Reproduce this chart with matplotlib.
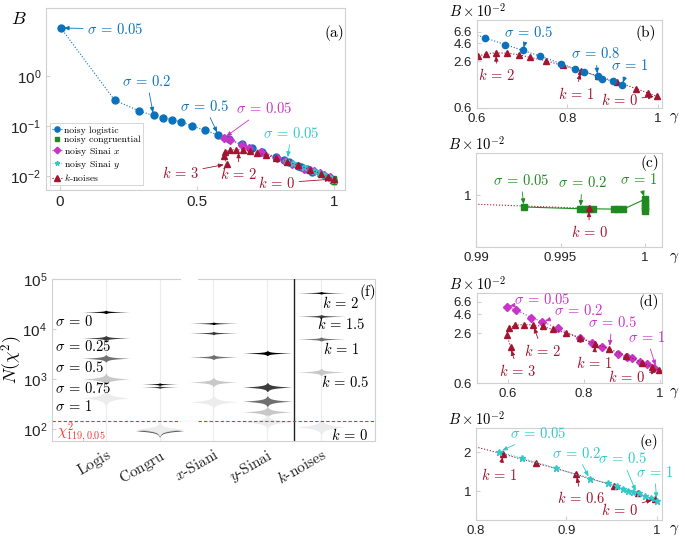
import numpy as np
import matplotlib
matplotlib.use('Agg')
import matplotlib.pyplot as plt

plt.rcParams['font.family'] = ['Liberation Sans', 'DejaVu Sans']
plt.rcParams['mathtext.fontset'] = 'cm'
plt.rcParams['axes.formatter.use_mathtext'] = True

BLUE = '#0a72bd'
GREEN = '#1f8a1f'
MAG = '#c833c8'
CYAN = '#30c8c8'
RED = '#a2142f'
FRAME = '#d0d0d0'
SERIF = 'cmr10'

# ---- data, B in units of 1e-2 ----
log_g = [0.004, 0.20, 0.29, 0.342, 0.378, 0.41, 0.443, 0.483, 0.529, 0.578,
         0.6185, 0.663, 0.7015, 0.739, 0.787, 0.816, 0.836, 0.867, 0.878, 0.9015, 0.921]
log_B = [920, 33, 20, 16.3, 14.7, 13.4, 12.0, 10.0, 8.2, 6.6,
         5.4, 4.38, 3.66, 3.07, 2.41, 2.06, 1.88, 1.62, 1.51, 1.385, 1.22]

cg_g = [0.99284, 0.99618, 0.99636, 0.99665, 0.99690, 0.99818, 0.99838, 0.99867,
        1.0, 1.0, 1.0, 1.0, 1.0]
cg_B = [0.81, 0.785, 0.785, 0.785, 0.785, 0.78, 0.775, 0.775,
        0.93, 0.88, 0.83, 0.79, 0.75]

sx_g = [0.598, 0.622, 0.6626, 0.691, 0.732, 0.791, 0.822, 0.848, 0.889, 0.913,
        0.926, 0.948, 0.965, 0.984]
sx_B = [5.75, 5.22, 4.15, 3.69, 3.03, 2.25, 1.98, 1.76, 1.40, 1.31,
        1.25, 1.13, 1.04, 0.94]

sy_g = [0.826, 0.851, 0.889, 0.926, 0.946, 0.956, 0.963, 0.968, 0.974, 0.980,
        0.987, 0.994, 1.0]
sy_B = [2.01, 1.79, 1.50, 1.24, 1.15, 1.09, 1.04, 1.0, 0.98, 0.96,
        0.91, 0.88, 0.84]

kn_g = [0.608, 0.598, 0.603, 0.62, 0.642, 0.667, 0.692, 0.718, 0.752, 0.79,
        0.83, 0.867, 0.911, 0.953, 0.979, 0.998]
kn_B = [1.73, 2.49, 3.05, 3.3, 3.38, 3.35, 3.2, 2.93, 2.65, 2.28,
        1.93, 1.64, 1.35, 1.1, 0.96, 0.87]

# zoomed (c): last k-noise segment
kc_g = [0.979, 0.99667]
kc_B = [0.96, 0.79]

# (f) violin centres N(chi^2) and log10 spreads
cats = ['$\\mathrm{Logis}$', '$\\mathrm{Congru}$', '$x$-Siani', '$y$-Sinai', '$k$-noises']
logis_N = [2.2e4, 6600, 2600, 1000, 420]
congru_N = [790, 690, 92, 96, 100]
sinx_N = [1.3e4, 8300, 2750, 870, 350]
siny_N = [3300, 690, 360, 220, 140]
knoise_N = [5.3e4, 1.8e4, 6300, 1380, 110]
logis_s = [0.008, 0.012, 0.018, 0.028, 0.04]
congru_s = [0.006, 0.006, 0.03, 0.03, 0.035]
sinx_s = [0.006, 0.008, 0.012, 0.022, 0.032]
siny_s = [0.012, 0.022, 0.026, 0.026, 0.035]
knoise_s = [0.006, 0.008, 0.01, 0.018, 0.04]
chi_crit = 145.5

fig = plt.figure(figsize=(6.85, 5.4), dpi=100)
FS = 10.5


def style(ax, fs):
    for s in ax.spines.values():
        s.set_color(FRAME)
        s.set_linewidth(0.8)
    ax.tick_params(which='both', direction='in', length=3, color=FRAME,
                   labelsize=fs, labelcolor='#222222')
    ax.tick_params(which='minor', length=0)


def eq(lhs, rhs):
    return r'$%s\,=\,%s$' % (lhs, rhs)


def note(ax, txt, xy, xytext, c, ha='center', fs=FS):
    ax.annotate(txt, xy=xy, xytext=xytext, color=c, fontsize=fs, ha=ha, va='center',
                arrowprops=dict(arrowstyle='-|>,head_length=0.3,head_width=0.12',
                                color=c, lw=0.6, shrinkA=1, shrinkB=2))


def small_panel(rect, xlim, ylim, yt, ytl, xt, xtl, tag, tagxy):
    ax = fig.add_axes(rect)
    ax.set_yscale('log')
    ax.set_xlim(*xlim)
    ax.set_ylim(*ylim)
    ax.set_yticks(yt)
    ax.set_yticklabels(ytl)
    ax.set_xticks(xt)
    ax.set_xticklabels(xtl)
    ax.yaxis.set_minor_locator(matplotlib.ticker.NullLocator())
    style(ax, 9.5)
    ax.text(-0.15, 1.1, r'$B\times10^{-2}$', transform=ax.transAxes, fontsize=10.5,
            va='center', ha='left')
    ax.text(1.04, -0.11, r'$\gamma$', transform=ax.transAxes, fontsize=11, va='center')
    ax.text(tagxy[0], tagxy[1], '(%s)' % tag, fontsize=11, ha='center', va='center',
            family=SERIF)
    return ax


# ---------------- (a) ----------------
axa = fig.add_axes([0.0672, 0.6481, 0.4365, 0.3370])
axa.set_yscale('log')
h = 1e-2
axa.plot(log_g, np.array(log_B) * h, ':', color=BLUE, marker='o', ms=5, lw=0.8,
         label='noisy logistic')
axa.plot(cg_g, np.array(cg_B) * h, ls='none', color=GREEN, marker='s', ms=3.5,
         label='noisy congruential')
axa.plot(sx_g, np.array(sx_B) * h, ':', color=MAG, marker='D', ms=4.5, lw=0.8,
         label='noisy Sinai $x$')
axa.plot(sy_g, np.array(sy_B) * h, ':', color=CYAN, marker='*', ms=4.5, lw=0.6,
         label='noisy Sinai $y$')
axa.plot(kn_g, np.array(kn_B) * h, ':', color=RED, marker='^', ms=5, lw=0.8,
         label='$k$-noises')
axa.set_xlim(-0.05, 1.04)
axa.set_ylim(10 ** -2.28, 23)
axa.set_yticks([1e-2, 1e-1, 1])
axa.yaxis.set_minor_locator(matplotlib.ticker.NullLocator())
axa.set_xticks([0, 0.5, 1])
axa.set_xticklabels(['0', '0.5', '1'])
style(axa, 11)
leg = axa.legend(loc='lower left', bbox_to_anchor=(0.01, 0.02),
                 prop={'family': SERIF, 'size': 7}, markerscale=0.75,
                 handlelength=1.0, handletextpad=0.2, labelspacing=0.12, borderpad=0.25,
                 borderaxespad=0.1, fancybox=False, framealpha=1)
leg.get_frame().set_edgecolor(FRAME)
leg.get_frame().set_linewidth(0.6)
note(axa, eq(r'\sigma', '0.05'), (0.004, 9.2), (0.1, 8.7), BLUE, ha='left')
note(axa, eq(r'\sigma', '0.2'), (0.342, 0.163), (0.318, 0.79), BLUE)
note(axa, eq(r'\sigma', '0.5'), (0.578, 0.066), (0.529, 0.25), BLUE)
note(axa, eq(r'\sigma', '0.05'), (0.598, 0.0575), (0.745, 0.22), MAG)
note(axa, eq(r'\sigma', '0.05'), (0.83, 0.021), (0.843, 0.072), CYAN)
note(axa, eq('k', '3'), (0.608, 0.0173), (0.44, 0.0115), RED)
note(axa, eq('k', '2'), (0.652, 0.0338), (0.652, 0.011), RED)
note(axa, eq('k', '0'), (0.998, 0.0087), (0.79, 0.0072), RED)
axa.text(1.0, 7.3, '(a)', fontsize=11, ha='center', va='center', family=SERIF)
fig.text(19 / 685, 1 - 20 / 540, r'$B$', fontsize=13, ha='center', va='center')

# ---------------- (b) ----------------
t4 = [0.6, 2.6, 4.6, 6.6]
t4l = ['0.6', '2.6', '4.6', '6.6']
axb = small_panel([0.6964, 0.8, 0.2701, 0.163], (0.6, 1.01), (0.6, 9.5), t4, t4l,
                  [0.6, 0.8, 1], ['0.6', '0.8', '1'], 'b', (0.974, 6.3))
axb.plot(kn_g[2:], kn_B[2:], ':', color=RED, marker='^', ms=4.5, lw=0.8)
axb.plot(log_g, log_B, ':', color=BLUE, marker='o', ms=4.5, lw=0.8)
note(axb, eq(r'\sigma', '0.5'), (0.7015, 3.66), (0.713, 6.5), BLUE)
note(axb, eq(r'\sigma', '0.8'), (0.867, 1.62), (0.863, 3.3), BLUE)
note(axb, eq(r'\sigma', '1'), (0.921, 1.22), (0.937, 2.29), BLUE)
note(axb, eq('k', '2'), (0.642, 3.38), (0.644, 1.67), RED)
note(axb, eq('k', '1'), (0.83, 1.93), (0.819, 0.94), RED)
note(axb, eq('k', '0'), (0.998, 0.87), (0.915, 0.76), RED)

# ---------------- (c) ----------------
axc = small_panel([0.6949, 0.5426, 0.2715, 0.1741], (0.99, 1.001), (0.4, 2.1), [1], ['1'],
                  [0.99, 0.995, 1], ['0.99', '0.995', '1'], 'c', (1.0003, 1.75))
axc.plot(kc_g, kc_B, ':', color=RED, lw=0.8)
axc.plot(cg_g, cg_B, '-', color=GREEN, marker='s', ms=4, lw=0.8)
axc.plot(kc_g[-1:], kc_B[-1:], ls='none', color=RED, marker='^', ms=5)
note(axc, eq(r'\sigma', '0.05'), (0.99284, 0.81), (0.99265, 1.30), GREEN)
note(axc, eq(r'\sigma', '0.2'), (0.99618, 0.785), (0.99627, 1.24), GREEN)
note(axc, eq(r'\sigma', '1'), (1.0, 0.93), (0.9996, 1.32), GREEN)
note(axc, eq('k', '0'), (0.99667, 0.79), (0.99671, 0.52), RED)

# ---------------- (d) ----------------
axd = small_panel([0.6964, 0.2907, 0.2701, 0.1667], (0.52, 1.005), (0.6, 8.6), t4, t4l,
                  [0.6, 0.8, 1], ['0.6', '0.8', '1'], 'd', (0.97, 6.6))
axd.plot(sx_g, sx_B, ':', color=MAG, marker='D', ms=4, lw=0.8)
axd.plot(kn_g, kn_B, ':', color=RED, marker='^', ms=4.5, lw=0.8)
note(axd, eq(r'\sigma', '0.05'), (0.598, 5.75), (0.69, 7.0), MAG)
note(axd, eq(r'\sigma', '0.2'), (0.691, 3.69), (0.787, 5.1), MAG)
note(axd, eq(r'\sigma', '0.5'), (0.867, 1.66), (0.874, 3.62), MAG)
note(axd, eq(r'\sigma', '1'), (0.99, 0.93), (0.965, 2.32), MAG)
note(axd, eq('k', '2'), (0.667, 3.35), (0.691, 1.56), RED)
note(axd, eq('k', '3'), (0.608, 1.73), (0.626, 0.86), RED)
note(axd, eq('k', '1'), (0.83, 1.93), (0.826, 1.08), RED)
note(axd, eq('k', '0'), (0.998, 0.87), (0.913, 0.71), RED)

# ---------------- (e) ----------------
axe = small_panel([0.6949, 0.037, 0.2715, 0.1704], (0.8, 1.006), (0.6, 3.06), [1, 2], ['1', '2'],
                  [0.8, 0.9, 1], ['0.8', '0.9', '1'], 'e', (0.991, 2.39))
axe.plot(kn_g[-6:], kn_B[-6:], ':', color=RED, marker='^', ms=5, lw=0.8)
axe.plot(kn_g[-7:-5], kn_B[-7:-5], ':', color=RED, lw=0.8)
axe.plot(sy_g, sy_B, ':', color=CYAN, marker='*', ms=5, lw=0.8)
note(axe, eq(r'\sigma', '0.05'), (0.826, 2.01), (0.8685, 2.76), CYAN)
note(axe, eq(r'\sigma', '0.2'), (0.926, 1.24), (0.9115, 1.96), CYAN)
note(axe, eq(r'\sigma', '0.5'), (0.978, 0.96), (0.962, 1.78), CYAN)
note(axe, eq(r'\sigma', '1'), (1.0, 0.84), (0.998, 1.40), CYAN)
note(axe, eq('k', '1'), (0.83, 1.93), (0.826, 1.34), RED)
note(axe, eq('k', '0.6'), (0.911, 1.35), (0.9167, 0.88), RED)
note(axe, eq('k', '0'), (0.998, 0.87), (0.959, 0.72), RED)

# ---------------- (f) ----------------
axf = fig.add_axes([0.0759, 0.1833, 0.4715, 0.3])
axf.set_yscale('log')
axf.set_xlim(0, 6)
axf.set_ylim(10 ** 1.76, 1e5)
axf.set_xticks([1, 2, 3, 4, 5])
axf.set_xticklabels(cats, rotation=30, ha='right', rotation_mode='anchor',
                    family=SERIF, fontsize=13)
axf.set_yticks([1e2, 1e3, 1e4, 1e5])
axf.yaxis.set_minor_locator(matplotlib.ticker.NullLocator())
style(axf, 11)
axf.tick_params(axis='x', length=0, pad=4)
axf.grid(axis='x', color='#ececec', lw=0.8)
axf.set_axisbelow(True)
axf.spines['top'].set_visible(False)
axf.plot([0, 0.396], [1, 1], color=FRAME, lw=0.8, transform=axf.transAxes, clip_on=False)
axf.plot([0.452, 1], [1, 1], color=FRAME, lw=0.8, transform=axf.transAxes, clip_on=False)

shades = ['#000000', '#3c3c3c', '#707070', '#c8c8c8', '#ececec']
groups = [(logis_N, logis_s, 0.44), (congru_N, congru_s, 0.34), (sinx_N, sinx_s, 0.45),
          (siny_N, siny_s, 0.46), (knoise_N, knoise_s, 0.45)]
for i, (cent, spr, w) in enumerate(groups):
    pos = i + 1
    for j in range(len(cent)):
        ww = w if not (i == 1 and j >= 2) else 0.45
        t = np.linspace(-4, 4, 241) * spr[j]
        half = ww * np.exp(-np.abs(t) / spr[j])
        y = 10 ** (np.log10(cent[j]) + t)
        col = shades[j] if not (i == 1 and j == 2) else '#555555'
        axf.fill_betweenx(y, pos - half, pos + half, color=col, lw=0)

axf.axvline(4.5, color='#222222', lw=1)
axf.plot([0, 2.38], [chi_crit, chi_crit], '--', color='#f03030', lw=0.8, dashes=(3, 2))
axf.plot([2.72, 6], [chi_crit, chi_crit], '--', color='#f03030', lw=0.8, dashes=(3, 2))
axf.text(0.1, 10 ** 1.94, r'$\chi^2_{119,0.05}$', color='#f03030', fontsize=10.5, va='center')

sig_lab = ['0', '0.25', '0.5', '0.75', '1']
sig_y = [4.16, 3.66, 3.24, 2.82, 2.46]
for s, yy in zip(sig_lab, sig_y):
    axf.text(0.06, 10 ** yy, eq(r'\sigma', s), fontsize=FS, va='center', ha='left')
k_lab = ['2', '1.5', '1', '0.5', '0']
k_x = [5.35, 5.37, 5.38, 5.44, 5.52]
k_y = [4.52, 4.1, 3.6, 2.94, 1.88]
for s, xx, yy in zip(k_lab, k_x, k_y):
    axf.text(xx, 10 ** yy, eq('k', s), fontsize=FS, va='center', ha='center')
axf.text(5.87, 10 ** 4.75, '(f)', fontsize=11, ha='center', va='center', family=SERIF)
axf.set_ylabel(r'$N(\chi^2)$', fontsize=13)
axf.yaxis.set_label_coords(-0.085, 0.5)

fig.savefig('out.png', dpi=100)
